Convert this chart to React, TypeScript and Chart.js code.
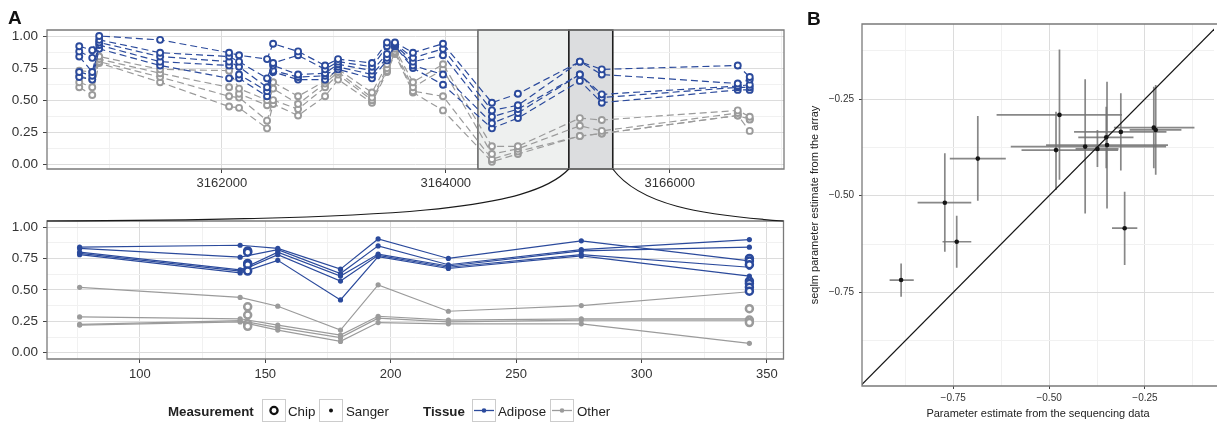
import React, { useEffect, useRef } from 'react';
import { Chart, registerables } from 'chart.js';

Chart.register(...registerables);

const FONT = "'Liberation Sans', Arial, Helvetica, sans-serif";
const BLUE = '#2b4a9c';
const GREY = '#9b9b9b';
const GRID_MAJOR = '#dcdcdc';
const GRID_MINOR = '#f1f1f1';
const BORDER = '#7a7a7a';
const TEXT = '#333333';

// ---------- Panel A (top): chip measurements along the genome ----------
const topPositions = [
  3160727, 3160843, 3160905, 3161449, 3162065, 3162154, 3162404, 3162458, 3162681, 3162922, 3163038,
  3163341, 3163475, 3163546, 3163707, 3163975, 3164412, 3164644, 3165197, 3165393, 3166607, 3166714,
];
const topAdipose1 = [0.92, 0.89, 1.0, 0.97, 0.87, 0.85, 0.82, 0.94, 0.88, 0.77, 0.82, 0.79, 0.95, 0.95, 0.87, 0.94, 0.48, 0.55, 0.8, 0.74, 0.77, 0.68];
const topAdipose2 = [0.88, 0.83, 0.97, 0.87, 0.84, 0.8, 0.67, 0.79, 0.85, 0.74, 0.8, 0.76, 0.92, 0.94, 0.83, 0.9, 0.42, 0.46, 0.8, 0.7, 0.63, 0.66];
const topAdipose3 = [0.84, 0.72, 0.95, 0.84, 0.8, 0.76, 0.6, 0.77, 0.7, 0.71, 0.78, 0.73, 0.86, 0.93, 0.8, 0.85, 0.37, 0.43, 0.7, 0.545, 0.61, 0.62];
const topAdipose4 = [0.72, 0.69, 0.93, 0.8, 0.77, 0.7, 0.57, 0.73, 0.68, 0.69, 0.76, 0.7, 0.83, 0.92, 0.77, 0.7, 0.32, 0.4, 0.7, 0.52, 0.6, 0.6];
const topAdipose5 = [0.68, 0.66, 0.9, 0.77, 0.67, 0.67, 0.53, 0.72, 0.66, 0.66, 0.74, 0.67, 0.81, 0.92, 0.75, 0.62, 0.28, 0.36, 0.65, 0.48, 0.58, 0.58];
const topOther1 = [0.73, 0.72, 0.84, 0.74, 0.73, 0.59, 0.5, 0.64, 0.53, 0.65, 0.74, 0.56, 0.78, 0.9, 0.64, 0.78, 0.14, 0.14, 0.36, 0.345, 0.42, 0.37];
const topOther2 = [0.69, 0.66, 0.82, 0.71, 0.6, 0.55, 0.46, 0.59, 0.47, 0.63, 0.72, 0.52, 0.75, 0.88, 0.6, 0.74, 0.08, 0.12, 0.3, 0.26, 0.4, 0.35];
const topOther3 = [0.64, 0.6, 0.8, 0.68, 0.53, 0.52, 0.34, 0.5, 0.43, 0.6, 0.7, 0.5, 0.73, 0.87, 0.57, 0.53, 0.04, 0.1, 0.22, 0.24, 0.38, 0.35];
const topOther4 = [0.6, 0.54, 0.79, 0.64, 0.45, 0.44, 0.28, 0.47, 0.38, 0.53, 0.66, 0.48, 0.72, 0.86, 0.56, 0.42, 0.02, 0.08, 0.22, 0.24, 0.38, 0.26];
const topAdipose = [topAdipose1, topAdipose2, topAdipose3, topAdipose4, topAdipose5];
const topOther = [topOther1, topOther2, topOther3, topOther4];
const topXTicks = [3161000, 3162000, 3163000, 3164000, 3165000, 3166000, 3167000];
const topXMajor = [3162000, 3164000, 3166000];
const topXRange = [3160439, 3167020];
const zoomRegionLight = [3164287, 3165099];
const zoomRegionDark = [3165099, 3165491];

const fracTicks = [0, 0.125, 0.25, 0.375, 0.5, 0.625, 0.75, 0.875, 1];
const fracMajor = [0, 0.25, 0.5, 0.75, 1];

// ---------- Panel A (bottom): zoomed region, Sanger + chip ----------
const sangerPositions = [76, 140, 155, 180, 195, 223, 276, 343];
const sangerAdipose1 = [0.84, 0.855, 0.83, 0.665, 0.905, 0.75, 0.89, 0.73];
const sangerAdipose2 = [0.83, 0.76, 0.82, 0.63, 0.85, 0.7, 0.82, 0.9];
const sangerAdipose3 = [0.8, 0.66, 0.8, 0.61, 0.785, 0.69, 0.81, 0.84];
const sangerAdipose4 = [0.79, 0.65, 0.78, 0.57, 0.775, 0.68, 0.78, 0.68];
const sangerAdipose5 = [0.78, 0.635, 0.735, 0.42, 0.765, 0.67, 0.77, 0.61];
const sangerOther1 = [0.52, 0.44, 0.37, 0.18, 0.54, 0.33, 0.375, 0.485];
const sangerOther2 = [0.285, 0.27, 0.22, 0.14, 0.29, 0.26, 0.27, 0.27];
const sangerOther3 = [0.225, 0.255, 0.2, 0.12, 0.275, 0.245, 0.26, 0.26];
const sangerOther4 = [0.22, 0.245, 0.18, 0.09, 0.24, 0.23, 0.23, 0.075];
const sangerAdipose = [sangerAdipose1, sangerAdipose2, sangerAdipose3, sangerAdipose4, sangerAdipose5];
const sangerOther = [sangerOther1, sangerOther2, sangerOther3, sangerOther4];
const chipPositionsBottom = [143, 343];
const chipAdiposeBottom = [
  [0.81, 0.8, 0.71, 0.7, 0.65],
  [0.75, 0.73, 0.7, 0.57, 0.55, 0.52, 0.49],
];
const chipOtherBottom = [
  [0.365, 0.3, 0.23, 0.21],
  [0.35, 0.26, 0.24],
];
const bottomXTicks = [75, 100, 125, 150, 175, 200, 225, 250, 275, 300, 325, 350];
const bottomXMajor = [100, 150, 200, 250, 300, 350];
const bottomXRange = [63, 356.6];

// ---------- Panel B ----------
const seqEstimate = [-0.886, -0.772, -0.741, -0.686, -0.473, -0.482, -0.406, -0.374, -0.351, -0.349, -0.313, -0.227, -0.222, -0.303];
const arrayEstimate = [-0.718, -0.518, -0.619, -0.404, -0.291, -0.382, -0.373, -0.379, -0.349, -0.369, -0.335, -0.324, -0.33, -0.584];
const seqLow = [-0.916, -0.843, -0.778, -0.759, -0.637, -0.572, -0.6, -0.431, -0.424, -0.508, -0.435, -0.331, -0.29, -0.336];
const seqHigh = [-0.853, -0.703, -0.703, -0.613, -0.31, -0.32, -0.195, -0.319, -0.28, -0.19, -0.194, -0.121, -0.155, -0.27];
const arrayLow = [-0.761, -0.645, -0.686, -0.513, -0.459, -0.485, -0.546, -0.426, -0.429, -0.533, -0.435, -0.429, -0.446, -0.679];
const arrayHigh = [-0.675, -0.39, -0.552, -0.294, -0.122, -0.283, -0.199, -0.33, -0.27, -0.205, -0.235, -0.218, -0.214, -0.49];
const identityEnds = [-1.2, 0.2];
const bTicks = [-0.875, -0.75, -0.625, -0.5, -0.375, -0.25, -0.125];
const bMajor = [-0.75, -0.5, -0.25];
const bXRange = [-0.988, -0.07];
const bYRange = [-0.992, -0.056];

function isIn(list: number[], v: number) {
  return list.some((m) => Math.abs(m - v) < 1e-9);
}

function axis(cfg: any) {
  const { min, max, ticks, major, fmt, size, tl, pad, width, height, title } = cfg;
  return {
    type: 'linear',
    min,
    max,
    afterBuildTicks: (s: any) => {
      s.ticks = ticks.filter((v: number) => v >= min && v <= max).map((v: number) => ({ value: v }));
    },
    afterFit: (s: any) => {
      if (width !== undefined) s.width = width;
      if (height !== undefined) s.height = height;
    },
    grid: {
      color: (c: any) => (c.tick && isIn(major, c.tick.value) ? GRID_MAJOR : GRID_MINOR),
      tickColor: (c: any) => (c.tick && isIn(major, c.tick.value) ? '#444' : 'rgba(0,0,0,0)'),
      lineWidth: 1,
      tickLength: tl,
      tickWidth: 1,
      drawTicks: true,
    },
    border: { display: false },
    ticks: {
      autoSkip: false,
      maxRotation: 0,
      minRotation: 0,
      padding: pad,
      color: TEXT,
      font: { family: FONT, size },
      callback: (v: number) => (isIn(major, v) ? fmt(v) : ''),
    },
    title: title || { display: false },
  };
}

function framePlugin(skipRight: boolean) {
  return {
    id: 'frame',
    afterDatasetsDraw(chart: any) {
      const { ctx, chartArea: a } = chart;
      ctx.save();
      ctx.strokeStyle = BORDER;
      ctx.lineWidth = 1.3;
      ctx.beginPath();
      if (skipRight) {
        ctx.moveTo(a.right + 3, a.top);
        ctx.lineTo(a.left, a.top);
        ctx.lineTo(a.left, a.bottom);
        ctx.lineTo(a.right + 3, a.bottom);
      } else {
        ctx.rect(a.left, a.top, a.right - a.left, a.bottom - a.top);
      }
      ctx.stroke();
      ctx.restore();
    },
  };
}

const regionPlugin = {
  id: 'regions',
  beforeDatasetsDraw(chart: any) {
    const { ctx, chartArea: a, scales } = chart;
    const x = scales.x;
    const draw = (r: number[], fill: string, stroke: string, lw: number) => {
      const x0 = x.getPixelForValue(r[0]);
      const x1 = x.getPixelForValue(r[1]);
      ctx.fillStyle = fill;
      ctx.fillRect(x0, a.top, x1 - x0, a.bottom - a.top);
      ctx.strokeStyle = stroke;
      ctx.lineWidth = lw;
      ctx.strokeRect(x0, a.top, x1 - x0, a.bottom - a.top);
    };
    ctx.save();
    draw(zoomRegionLight, '#eef0ef', '#3a3a3a', 1.2);
    draw(zoomRegionDark, '#dcdddf', '#1e1e1e', 1.6);
    ctx.restore();
  },
};

const errorBarPlugin = {
  id: 'errbars',
  beforeDatasetsDraw(chart: any) {
    const { ctx, scales } = chart;
    const x = scales.x;
    const y = scales.y;
    ctx.save();
    ctx.strokeStyle = 'rgba(115,115,115,0.85)';
    ctx.lineWidth = 1.7;
    for (let i = 0; i < seqEstimate.length; i++) {
      const px = x.getPixelForValue(seqEstimate[i]);
      const py = y.getPixelForValue(arrayEstimate[i]);
      ctx.beginPath();
      ctx.moveTo(x.getPixelForValue(seqLow[i]), py);
      ctx.lineTo(x.getPixelForValue(seqHigh[i]), py);
      ctx.moveTo(px, y.getPixelForValue(arrayLow[i]));
      ctx.lineTo(px, y.getPixelForValue(arrayHigh[i]));
      ctx.stroke();
    }
    ctx.restore();
  },
};

const fmt2 = (v: number) => v.toFixed(2);
const fmtInt = (v: number) => String(v);
const fmtNeg = (v: number) => (v < 0 ? '\u2212' : '') + Math.abs(v).toFixed(2);

const TOP_CANVAS = { left: 0, top: 0, w: 790, h: 192 };
const BOT_CANVAS = { left: 0, top: 200, w: 790, h: 190 };
const B_CANVAS = { left: 800, top: 0, w: 418, h: 423 };

export default function App() {
  const topRef = useRef<HTMLCanvasElement | null>(null);
  const botRef = useRef<HTMLCanvasElement | null>(null);
  const bRef = useRef<HTMLCanvasElement | null>(null);
  const leftConn = useRef<SVGPathElement | null>(null);
  const rightConn = useRef<SVGPathElement | null>(null);

  useEffect(() => {
    const baseOpts = {
      responsive: false,
      animation: false,
      devicePixelRatio: 1,
      events: [],
      plugins: { legend: { display: false }, tooltip: { enabled: false } },
    };

    const topDataset = (vals: number[], color: string) => ({
      type: 'line',
      data: topPositions.map((p, i) => ({ x: p, y: vals[i] })),
      borderColor: color,
      borderWidth: 1.2,
      borderDash: [7, 4],
      pointRadius: 3,
      pointBorderWidth: 1.9,
      pointBorderColor: color,
      pointBackgroundColor: '#ffffff',
      tension: 0,
      fill: false,
    });

    const top = new Chart(topRef.current as HTMLCanvasElement, {
      type: 'line',
      data: {
        datasets: [
          ...topAdipose.map((v) => topDataset(v, BLUE)),
          ...topOther.map((v) => topDataset(v, GREY)),
        ],
      } as any,
      options: {
        ...baseOpts,
        layout: { padding: { top: 30, right: 6, left: 0, bottom: 0 } },
        scales: {
          x: axis({ min: topXRange[0], max: topXRange[1], ticks: topXTicks, major: topXMajor, fmt: fmtInt, size: 13, tl: 4, pad: 3, height: 23 }),
          y: axis({ min: -0.037, max: 1.047, ticks: fracTicks, major: fracMajor, fmt: fmt2, size: 13.5, tl: 4, pad: 5, width: 47 }),
        },
      } as any,
      plugins: [regionPlugin, framePlugin(false)] as any,
    });

    const sangerDataset = (vals: number[], color: string) => ({
      type: 'line',
      data: sangerPositions.map((p, i) => ({ x: p, y: vals[i] })),
      borderColor: color,
      borderWidth: 1.2,
      pointRadius: 2.6,
      pointBorderWidth: 0,
      pointBackgroundColor: color,
      tension: 0,
      fill: false,
    });
    const chipDataset = (groups: number[][], color: string) => ({
      type: 'line',
      showLine: false,
      data: chipPositionsBottom.flatMap((p, j) => groups[j].map((v) => ({ x: p, y: v }))),
      pointRadius: 3.5,
      pointBorderWidth: 2.5,
      pointBorderColor: color,
      pointBackgroundColor: '#ffffff',
    });

    const bot = new Chart(botRef.current as HTMLCanvasElement, {
      type: 'line',
      data: {
        datasets: [
          chipDataset(chipAdiposeBottom, BLUE),
          chipDataset(chipOtherBottom, GREY),
          ...sangerAdipose.map((v) => sangerDataset(v, BLUE)),
          ...sangerOther.map((v) => sangerDataset(v, GREY)),
        ],
      } as any,
      options: {
        ...baseOpts,
        layout: { padding: { top: 21, right: 6, left: 0, bottom: 0 } },
        scales: {
          x: axis({ min: bottomXRange[0], max: bottomXRange[1], ticks: bottomXTicks, major: bottomXMajor, fmt: fmtInt, size: 13, tl: 4, pad: 4, height: 31 }),
          y: axis({ min: -0.05, max: 1.048, ticks: fracTicks, major: fracMajor, fmt: fmt2, size: 13.5, tl: 4, pad: 5, width: 47 }),
        },
      } as any,
      plugins: [framePlugin(false)] as any,
    });

    const bChart = new Chart(bRef.current as HTMLCanvasElement, {
      type: 'line',
      data: {
        datasets: [
          {
            type: 'line',
            showLine: false,
            data: seqEstimate.map((x, i) => ({ x, y: arrayEstimate[i] })),
            pointRadius: 2.3,
            pointBorderWidth: 0,
            pointBackgroundColor: '#151515',
          },
          {
            type: 'line',
            data: identityEnds.map((v) => ({ x: v, y: v })),
            borderColor: '#151515',
            borderWidth: 1.2,
            pointRadius: 0,
            fill: false,
          },
        ],
      } as any,
      options: {
        ...baseOpts,
        layout: { padding: { top: 24, right: 0, left: 0, bottom: 0 } },
        scales: {
          x: axis({
            min: bXRange[0], max: bXRange[1], ticks: bTicks, major: bMajor, fmt: fmtNeg, size: 10, tl: 3, pad: 3, height: 37,
            title: { display: true, text: 'Parameter estimate from the sequencing data', color: '#222', font: { family: FONT, size: 11 }, padding: { top: 0, bottom: 2 } },
          }),
          y: axis({
            min: bYRange[0], max: bYRange[1], ticks: bTicks, major: bMajor, fmt: fmtNeg, size: 10, tl: 3, pad: 5, width: 62,
            title: { display: true, text: 'seqlm parameter estimate from the array', color: '#222', font: { family: FONT, size: 11 }, padding: { top: 8, bottom: 0 } },
          }),
        },
      } as any,
      plugins: [errorBarPlugin, framePlugin(true)] as any,
    });

    const conn = (el: SVGPathElement | null, p0: any, p3: any, c1: number[], c2: number[]) => {
      if (!el) return;
      const dx = p3.x - p0.x;
      const dy = p3.y - p0.y;
      el.setAttribute(
        'd',
        `M${p0.x},${p0.y} C${p0.x + c1[0] * dx},${p0.y + c1[1] * dy} ${p0.x + c2[0] * dx},${p0.y + c2[1] * dy} ${p3.x},${p3.y}`
      );
    };
    const tx = top.scales.x;
    conn(
      leftConn.current,
      { x: TOP_CANVAS.left + tx.getPixelForValue(zoomRegionDark[0]), y: TOP_CANVAS.top + top.chartArea.bottom },
      { x: BOT_CANVAS.left + bot.chartArea.left, y: BOT_CANVAS.top + bot.chartArea.top },
      [0.075, 0.79],
      [0.324, 0.98]
    );
    conn(
      rightConn.current,
      { x: TOP_CANVAS.left + tx.getPixelForValue(zoomRegionDark[1]), y: TOP_CANVAS.top + top.chartArea.bottom },
      { x: BOT_CANVAS.left + bot.chartArea.right, y: BOT_CANVAS.top + bot.chartArea.top },
      [0.158, 0.69],
      [0.51, 0.885]
    );

    return () => {
      top.destroy();
      bot.destroy();
      bChart.destroy();
    };
  }, []);

  const cStyle = (c: any): React.CSSProperties => ({ position: 'absolute', left: c.left, top: c.top, width: c.w, height: c.h });
  const legendText = { fontFamily: FONT, fontSize: 13.3, fill: '#222' } as any;

  return (
    <div style={{ position: 'absolute', left: 0, top: 0, width: 1218, height: 423, overflow: 'hidden', background: '#ffffff' }}>
      <canvas ref={topRef} width={TOP_CANVAS.w} height={TOP_CANVAS.h} style={cStyle(TOP_CANVAS)} />
      <canvas ref={botRef} width={BOT_CANVAS.w} height={BOT_CANVAS.h} style={cStyle(BOT_CANVAS)} />
      <canvas ref={bRef} width={B_CANVAS.w} height={B_CANVAS.h} style={cStyle(B_CANVAS)} />
      <svg width={1218} height={423} style={{ position: 'absolute', left: 0, top: 0, pointerEvents: 'none' }}>
        <path ref={leftConn} d="" fill="none" stroke="#1a1a1a" strokeWidth={1.2} />
        <path ref={rightConn} d="" fill="none" stroke="#1a1a1a" strokeWidth={1.2} />
        <text x={8} y={24} style={{ fontFamily: FONT, fontSize: 19, fontWeight: 'bold', fill: '#111' }}>A</text>
        <text x={807} y={25} style={{ fontFamily: FONT, fontSize: 19, fontWeight: 'bold', fill: '#111' }}>B</text>

        <text x={168} y={416} style={{ ...legendText, fontWeight: 'bold' }}>Measurement</text>
        <rect x={262.5} y={399.5} width={23} height={22} fill="#fff" stroke="#cccccc" strokeWidth={1} />
        <circle cx={274} cy={410.5} r={3.6} fill="none" stroke="#111" strokeWidth={2.3} />
        <text x={288} y={416} style={legendText}>Chip</text>
        <rect x={319.5} y={399.5} width={23} height={22} fill="#fff" stroke="#cccccc" strokeWidth={1} />
        <circle cx={331} cy={410.5} r={2} fill="#111" />
        <text x={346} y={416} style={legendText}>Sanger</text>

        <text x={423} y={416} style={{ ...legendText, fontWeight: 'bold' }}>Tissue</text>
        <rect x={472.5} y={399.5} width={23} height={22} fill="#fff" stroke="#cccccc" strokeWidth={1} />
        <line x1={474} y1={410.5} x2={494} y2={410.5} stroke={BLUE} strokeWidth={1.3} />
        <circle cx={484} cy={410.5} r={2.3} fill={BLUE} />
        <text x={498} y={416} style={legendText}>Adipose</text>
        <rect x={550.5} y={399.5} width={23} height={22} fill="#fff" stroke="#cccccc" strokeWidth={1} />
        <line x1={552} y1={410.5} x2={572} y2={410.5} stroke={GREY} strokeWidth={1.3} />
        <circle cx={562} cy={410.5} r={2.3} fill={GREY} />
        <text x={577} y={416} style={legendText}>Other</text>
      </svg>
    </div>
  );
}
